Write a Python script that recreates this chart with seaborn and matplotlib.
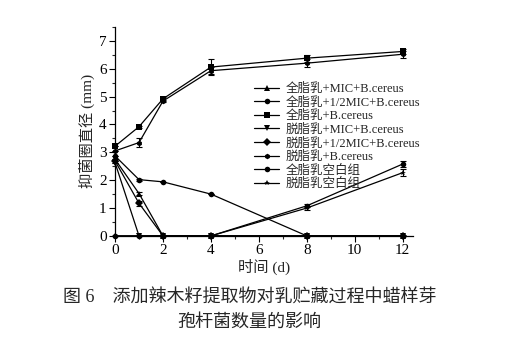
import matplotlib
matplotlib.use("Agg")
import matplotlib.pyplot as plt
import seaborn as sns
import pandas as pd
import numpy as np
from matplotlib.ticker import MultipleLocator

sns.set_theme(style="ticks")
FAM = ['Liberation Serif', 'Noto Sans CJK SC', 'DejaVu Sans']
plt.rcParams['font.family'] = FAM
plt.rcParams['axes.unicode_minus'] = False

days = [0, 1, 2, 4, 8, 12]
series_names = ["全脂乳+MIC+B.cereus", "全脂乳+1/2MIC+B.cereus", "全脂乳+B.cereus",
                "脱脂乳+MIC+B.cereus", "脱脂乳+1/2MIC+B.cereus", "脱脂乳+B.cereus",
                "全脂乳空白组", "脱脂乳空白组"]
whole_mic = [2.75, 1.52, 0, 0, 0, 0]
whole_half = [2.87, 2.02, 1.94, 1.50, 0, 0]
whole_bc = [3.22, 3.92, 4.92, 6.06, 6.38, 6.62]
skim_mic = [2.63, 0, 0, 0, 0, 0]
skim_half = [2.69, 1.17, 0, 0, 0, 0]
skim_bc = [3.05, 3.35, 4.84, 5.93, 6.20, 6.52]
whole_blank = [0, 0, 0, 0, 1.08, 2.58]
skim_blank = [0, 0, 0, 0, 1.00, 2.27]
values = [whole_mic, whole_half, whole_bc, skim_mic, skim_half, skim_bc, whole_blank, skim_blank]
errors = [
    [0, 0.05, 0, 0, 0, 0],
    [0, 0.04, 0, 0, 0, 0],
    [0, 0.04, 0.06, 0.30, 0.13, 0.08],
    [0, 0, 0, 0, 0, 0],
    [0, 0.10, 0, 0, 0, 0],
    [0, 0.15, 0.05, 0.12, 0.15, 0.12],
    [0, 0, 0, 0, 0.06, 0.12],
    [0, 0, 0, 0, 0.06, 0.12],
]
marker_list = ['^', 'o', 's', 'v', 'D', 'h', 'o', '*']

rows = []
for name, vals in zip(series_names, values):
    for d, v in zip(days, vals):
        rows.append({"day": d, "val": v, "group": name})
df = pd.DataFrame(rows)

fig = plt.figure(figsize=(5.09, 3.5), dpi=100)
ax = fig.add_axes([0.226, 0.326, 0.585, 0.597])

sns.lineplot(data=df, x="day", y="val", hue="group", style="group",
             hue_order=series_names, style_order=series_names,
             palette=['black'] * 8, markers=dict(zip(series_names, marker_list)),
             dashes=False, markersize=4, linewidth=0.9, markeredgewidth=0,
             ax=ax, legend=True, clip_on=False)

for vals, errs in zip(values, errors):
    ax.errorbar(days, vals, yerr=errs, fmt='none', ecolor='black',
                elinewidth=0.8, capsize=2.5, capthick=0.8, clip_on=False)

ax.set_xlim(0, 12.42)
ax.set_ylim(0, 7.5)
ax.xaxis.set_major_locator(MultipleLocator(2))
ax.xaxis.set_minor_locator(MultipleLocator(1))
ax.yaxis.set_major_locator(MultipleLocator(1))
ax.yaxis.set_minor_locator(MultipleLocator(0.5))
ax.tick_params(which='major', direction='out', length=4, width=0.8, labelsize=11, colors='black', pad=2)
ax.tick_params(which='minor', direction='out', length=2.5, width=0.8)
for s in ['top', 'right']:
    ax.spines[s].set_visible(False)
for s in ['left', 'bottom']:
    ax.spines[s].set_linewidth(0.9)
    ax.spines[s].set_color('black')

ax.set_xlabel("时间 (d)", fontsize=11, labelpad=1, family=FAM)
ax.set_ylabel("抑菌圈直径 (mm)", fontsize=11, labelpad=3, family=FAM)

leg = ax.legend(loc='upper left', bbox_to_anchor=(0.45, 0.755), frameon=False,
                fontsize=9, handlelength=2.0, handletextpad=0.5,
                labelspacing=0.12, borderaxespad=0)
for t in leg.get_texts():
    t.set_family(FAM)

fig.text(0.49, 0.148, "图 6　添加辣木籽提取物对乳贮藏过程中蜡样芽", ha='center', va='center',
         fontsize=13, family=FAM)
fig.text(0.49, 0.08, "孢杆菌数量的影响", ha='center', va='center', fontsize=13, family=FAM)

fig.savefig("out.png", dpi=100)
